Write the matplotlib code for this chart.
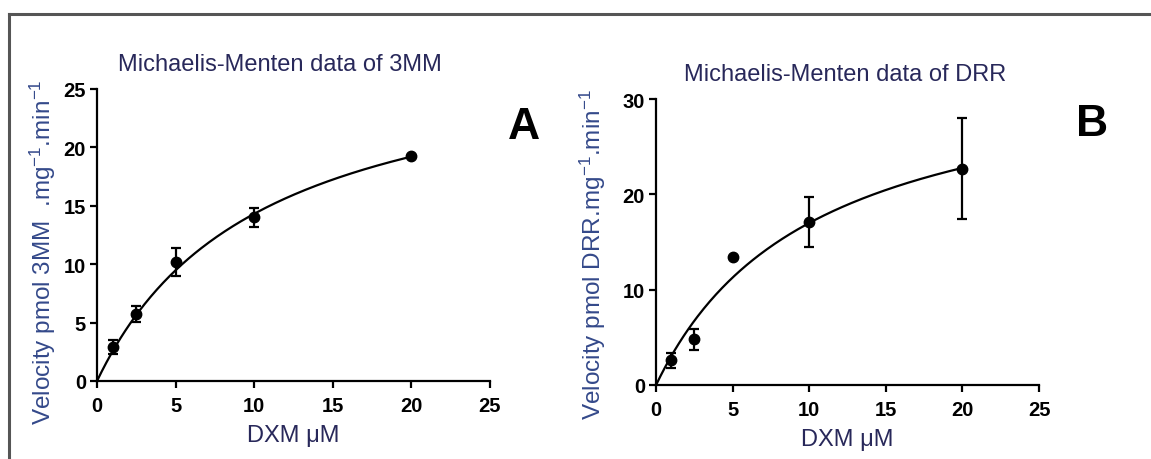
import numpy as np
import matplotlib
matplotlib.use("Agg")
from matplotlib import pyplot as plt
from matplotlib.lines import Line2D

plt.rcParams['font.family'] = ['Liberation Sans', 'DejaVu Sans']
plt.rcParams['mathtext.fontset'] = 'custom'
plt.rcParams['mathtext.rm'] = 'Liberation Sans'
plt.rcParams['mathtext.it'] = 'Liberation Sans'

# DXM concentration (uM)
dxm = [1, 2.5, 5, 10, 20]

# panel A: 3MM formation
v_3mm = [2.9, 5.75, 10.2, 14.0, 19.3]
err_3mm = [0.6, 0.7, 1.2, 0.85, 0.0]
vmax_3mm, km_3mm = 29.2, 10.4

# panel B: DRR formation
v_drr = [2.6, 4.8, 13.4, 17.1, 22.7]
err_drr = [0.8, 1.1, 0.0, 2.6, 5.3]
vmax_drr, km_drr = 34.5, 10.3

TITLE_COL = '#28285a'
YLAB_COL = '#34498a'


def mm_panel(ax, x, y, err, vmax, km, ymax, ystep, title, ylabel, letter,
             title_x, ylab_xy, letter_xy):
    s = np.linspace(0, max(x), 200)
    ax.plot(s, vmax * s / (km + s), color='black', lw=1.6, clip_on=False)
    ax.errorbar(x, y, yerr=err, fmt='o', color='black', ms=7.5,
                elinewidth=1.6, capsize=3.5, capthick=1.6, clip_on=False)
    ax.set_xlim(0, 25)
    ax.set_ylim(0, ymax)
    ax.set_xticks(np.arange(0, 26, 5))
    ax.set_yticks(np.arange(0, ymax + 1, ystep))
    for side in ['top', 'right']:
        ax.spines[side].set_visible(False)
    for side in ['left', 'bottom']:
        ax.spines[side].set_linewidth(1.6)
    ax.tick_params(direction='out', length=5, width=1.6, labelsize=14.5, pad=3)
    ax.tick_params(axis='x', pad=6)
    for lbl in ax.get_xticklabels() + ax.get_yticklabels():
        lbl.set_fontweight('bold')
    ax.set_title(title, fontsize=17, color=TITLE_COL, pad=14, x=title_x)
    ax.set_xlabel('DXM μM', fontsize=17, color=TITLE_COL, labelpad=6)
    ax.set_ylabel(ylabel, fontsize=17.5, color=YLAB_COL)
    ax.yaxis.set_label_coords(ylab_xy[0], ylab_xy[1])
    ax.text(letter_xy[0], letter_xy[1], letter, transform=ax.transAxes,
            fontsize=32, fontweight='bold', ha='center', va='center')


fig = plt.figure(figsize=(11.51, 4.6), dpi=100)
ax1 = fig.add_axes([0.0843, 0.1696, 0.3414, 0.6348])
ax2 = fig.add_axes([0.570, 0.1609, 0.3327, 0.6217])

mm_panel(ax1, dxm, v_3mm, err_3mm, vmax_3mm, km_3mm, 25, 5,
         'Michaelis-Menten data of 3MM',
         r'Velocity pmol 3MM  .mg$^{-1}$.min$^{-1}$', 'A',
         0.466, (-0.10, 0.445), (1.087, 0.873))
mm_panel(ax2, dxm, v_drr, err_drr, vmax_drr, km_drr, 30, 10,
         'Michaelis-Menten data of DRR',
         r'Velocity pmol DRR.mg$^{-1}$.min$^{-1}$', 'B',
         0.493, (-0.125, 0.458), (1.138, 0.913))

# outer frame (left and top edges)
fig.add_artist(Line2D([9 / 1151, 9 / 1151], [0, 1 - 15 / 460],
                      color='#555555', lw=2.2, transform=fig.transFigure))
fig.add_artist(Line2D([9 / 1151, 1], [1 - 15 / 460, 1 - 15 / 460],
                      color='#555555', lw=2.2, transform=fig.transFigure))

plt.savefig('out.png', dpi=100)
